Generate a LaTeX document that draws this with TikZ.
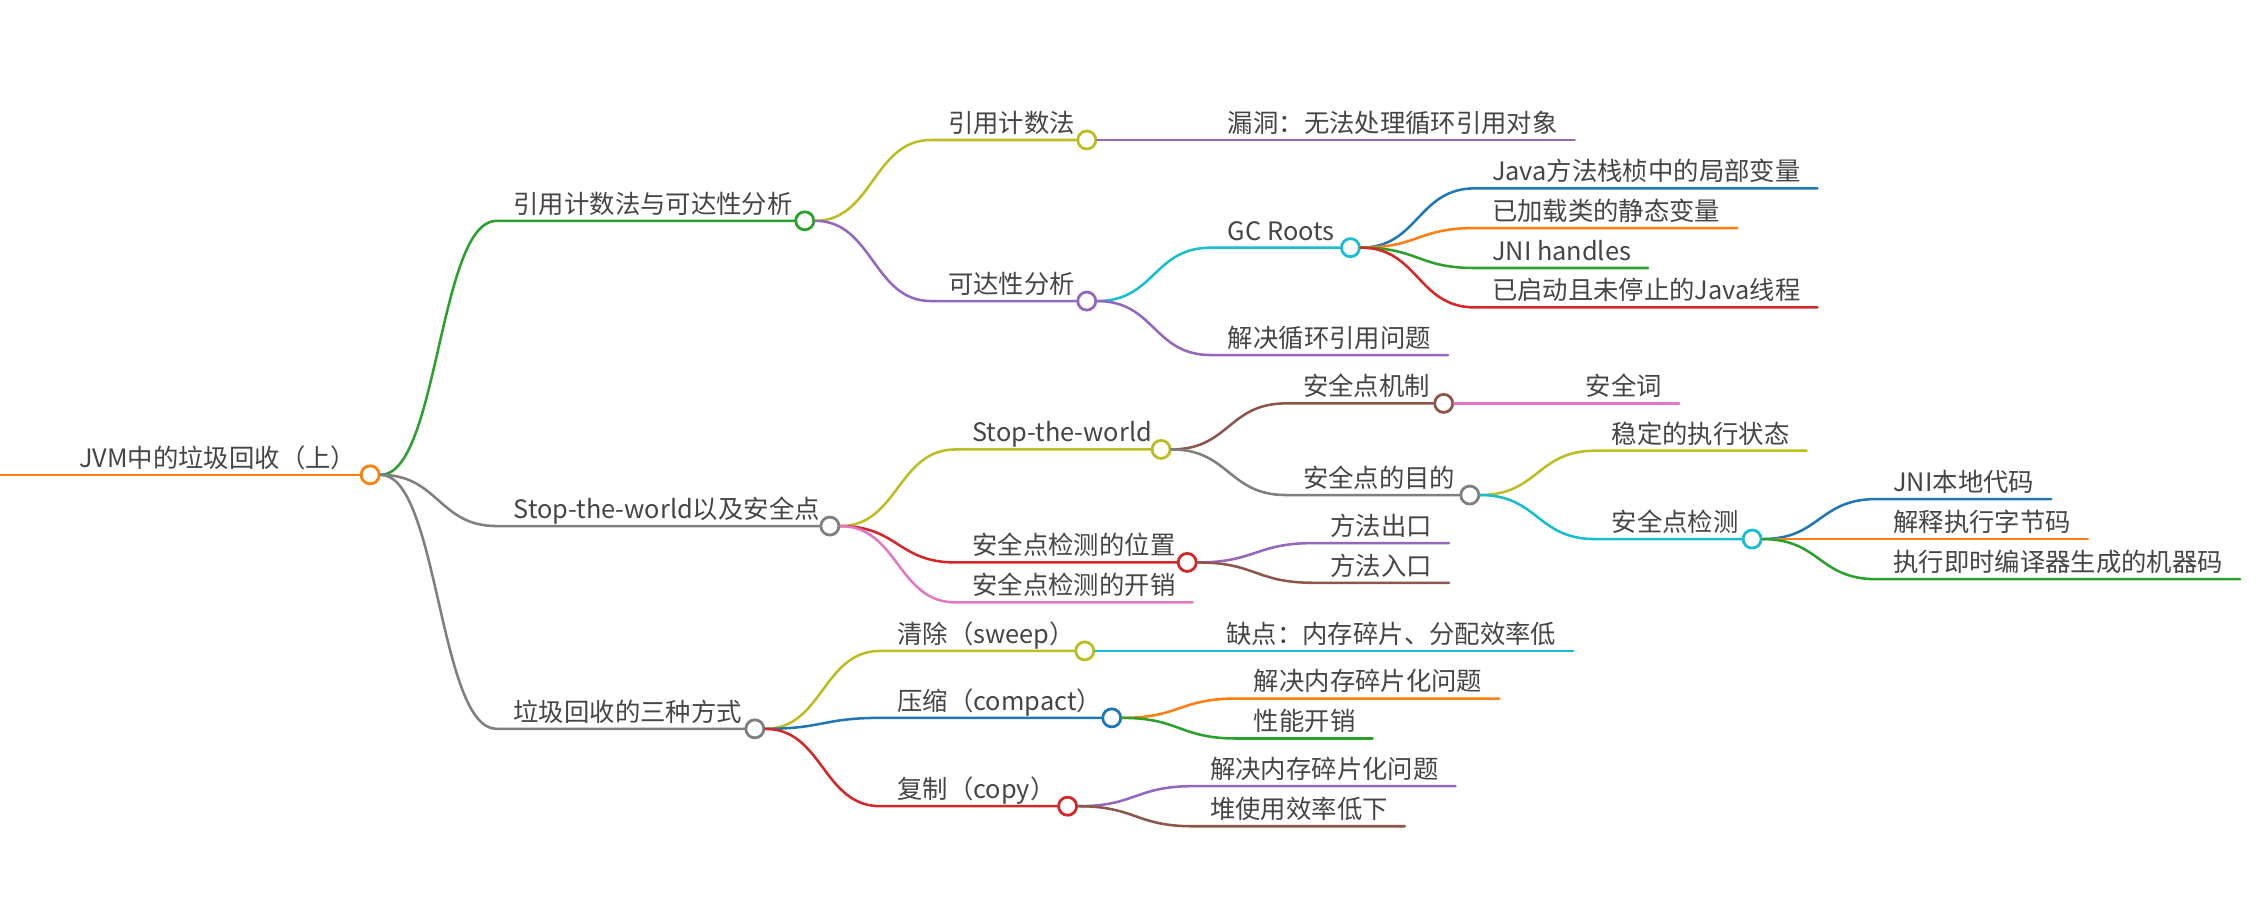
\documentclass[tikz,border=0pt]{standalone}
\usepackage{fontspec}
\setmainfont{Noto Sans CJK SC}
\usepackage{xcolor}
\usepackage{tikz}
\definecolor{ink}{HTML}{454545}
\definecolor{corange}{HTML}{FF7F0E}
\definecolor{cgreen}{HTML}{2CA02C}
\definecolor{cgray}{HTML}{7F7F7F}
\definecolor{colive}{HTML}{BCBD22}
\definecolor{cpurple}{HTML}{9467BD}
\definecolor{ccyan}{HTML}{17BECF}
\definecolor{cblue}{HTML}{1F77B4}
\definecolor{cred}{HTML}{D62728}
\definecolor{cbrown}{HTML}{8C564B}
\definecolor{cpink}{HTML}{E377C2}
\tikzset{
  link/.style={line width=1pt, line cap=round, line join=round},
  topic/.style={
    anchor=south west,
    inner xsep=0.23cm,
    inner ysep=0.6pt,
    text depth=2.2pt,
    font=\fontsize{10}{12}\selectfont,
    text=ink
  },
  dot/.style={circle, fill=white, line width=1.1pt, minimum size=0.25cm, inner sep=0pt}
}
\newcommand{\twig}[4]{%
  \draw[link, #1] (#2.east) .. controls +(40,0) and +(-40,0) .. (#3.south west) -- (#4);
}

\begin{document}
\begin{tikzpicture}[x=0.02cm,y=-0.02cm]
\path[use as bounding box] (0,0) rectangle (1568,622);
\fill[white] (0,0) rectangle (1568,622);

\coordinate (rootedge) at (0,329);
\node[topic] (root) at (43,329) {JVM中的垃圾回收（上）};
\node[dot, draw=corange] (rootdot) at (256.5,329) {};

\node[topic] (gcalgo) at (344,153) {引用计数法与可达性分析};
\node[dot, draw=cgreen] (gcalgodot) at (557.6,153) {};
\node[topic] (safept) at (344,364.5) {Stop-the-world以及安全点};
\node[dot, draw=cgray] (safeptdot) at (575,364.5) {};
\node[topic] (collect) at (344,505) {垃圾回收的三种方式};
\node[dot, draw=cgray] (collectdot) at (523,505) {};

\node[topic] (refcount) at (645,97) {引用计数法};
\node[dot, draw=colive] (refcountdot) at (753,97) {};
\node[topic] (refleak) at (839,97) {漏洞：无法处理循环引用对象};
\node[topic] (reach) at (645,208.6) {可达性分析};
\node[dot, draw=cpurple] (reachdot) at (753,208.6) {};
\node[topic] (roots) at (839,171.6) {GC Roots};
\node[dot, draw=ccyan] (rootsdot) at (935.7,171.6) {};
\node[topic] (cycles) at (839,246) {解决循环引用问题};
\node[topic] (rlocal) at (1022,130.5) {Java方法栈桢中的局部变量};
\node[topic] (rstatic) at (1022,158) {已加载类的静态变量};
\node[topic] (rjni) at (1022,185.7) {JNI handles};
\node[topic] (rthread) at (1022,213) {已启动且未停止的Java线程};

\node[topic] (stw) at (662,311.4) {Stop-the-world};
\node[dot, draw=colive] (stwdot) at (804.5,311.4) {};
\node[topic] (mech) at (891,279.5) {安全点机制};
\node[dot, draw=cbrown] (mechdot) at (1000.3,279.5) {};
\node[topic] (word) at (1087,279.5) {安全词};
\node[topic] (goal) at (891,343) {安全点的目的};
\node[dot, draw=cgray] (goaldot) at (1018.4,343) {};
\node[topic] (stable) at (1105,312.3) {稳定的执行状态};
\node[topic] (check) at (1105,373.5) {安全点检测};
\node[dot, draw=ccyan] (checkdot) at (1214,373.5) {};
\node[topic] (cnative) at (1300,345.8) {JNI本地代码};
\node[topic] (cinterp) at (1300,373.5) {解释执行字节码};
\node[topic] (cjit) at (1300,401.3) {执行即时编译器生成的机器码};
\node[topic] (where) at (662,389.7) {安全点检测的位置};
\node[dot, draw=cred] (wheredot) at (822.6,389.7) {};
\node[topic] (wexit) at (910,376.3) {方法出口};
\node[topic] (wentry) at (910,403.8) {方法入口};
\node[topic] (cost) at (662,417.4) {安全点检测的开销};

\node[topic] (sweep) at (610,451) {清除（sweep）};
\node[dot, draw=colive] (sweepdot) at (751.6,451) {};
\node[topic] (sweepcon) at (838,451) {缺点：内存碎片、分配效率低};
\node[topic] (compact) at (610,497.4) {压缩（compact）};
\node[dot, draw=cblue] (compactdot) at (770.3,497.4) {};
\node[topic] (cmpfrag) at (857,484) {解决内存碎片化问题};
\node[topic] (cmpcost) at (857,511.7) {性能开销};
\node[topic] (copy) at (610,558.6) {复制（copy）};
\node[dot, draw=cred] (copydot) at (739.7,558.6) {};
\node[topic] (cpyfrag) at (826.7,544.7) {解决内存碎片化问题};
\node[topic] (cpyheap) at (826.7,572.5) {堆使用效率低下};

\draw[link, corange] (rootedge) -- (rootdot.west);
\twig{cgreen}{rootdot}{gcalgo}{gcalgodot.west}
\twig{cgray}{rootdot}{safept}{safeptdot.west}
\twig{cgray}{rootdot}{collect}{collectdot.west}

\twig{colive}{gcalgodot}{refcount}{refcountdot.west}
\twig{cpurple}{refcountdot}{refleak}{refleak.south east}
\twig{cpurple}{gcalgodot}{reach}{reachdot.west}
\twig{ccyan}{reachdot}{roots}{rootsdot.west}
\twig{cpurple}{reachdot}{cycles}{cycles.south east}
\twig{cblue}{rootsdot}{rlocal}{rlocal.south east}
\twig{corange}{rootsdot}{rstatic}{rstatic.south east}
\twig{cgreen}{rootsdot}{rjni}{rjni.south east}
\twig{cred}{rootsdot}{rthread}{rthread.south east}

\twig{colive}{safeptdot}{stw}{stwdot.west}
\twig{cbrown}{stwdot}{mech}{mechdot.west}
\twig{cpink}{mechdot}{word}{word.south east}
\twig{cgray}{stwdot}{goal}{goaldot.west}
\twig{colive}{goaldot}{stable}{stable.south east}
\twig{ccyan}{goaldot}{check}{checkdot.west}
\twig{cblue}{checkdot}{cnative}{cnative.south east}
\twig{corange}{checkdot}{cinterp}{cinterp.south east}
\twig{cgreen}{checkdot}{cjit}{cjit.south east}
\twig{cred}{safeptdot}{where}{wheredot.west}
\twig{cpurple}{wheredot}{wexit}{wexit.south east}
\twig{cbrown}{wheredot}{wentry}{wentry.south east}
\twig{cpink}{safeptdot}{cost}{cost.south east}

\twig{colive}{collectdot}{sweep}{sweepdot.west}
\twig{ccyan}{sweepdot}{sweepcon}{sweepcon.south east}
\twig{cblue}{collectdot}{compact}{compactdot.west}
\twig{corange}{compactdot}{cmpfrag}{cmpfrag.south east}
\twig{cgreen}{compactdot}{cmpcost}{cmpcost.south east}
\twig{cred}{collectdot}{copy}{copydot.west}
\twig{cpurple}{copydot}{cpyfrag}{cpyfrag.south east}
\twig{cbrown}{copydot}{cpyheap}{cpyheap.south east}
\end{tikzpicture}
\end{document}
